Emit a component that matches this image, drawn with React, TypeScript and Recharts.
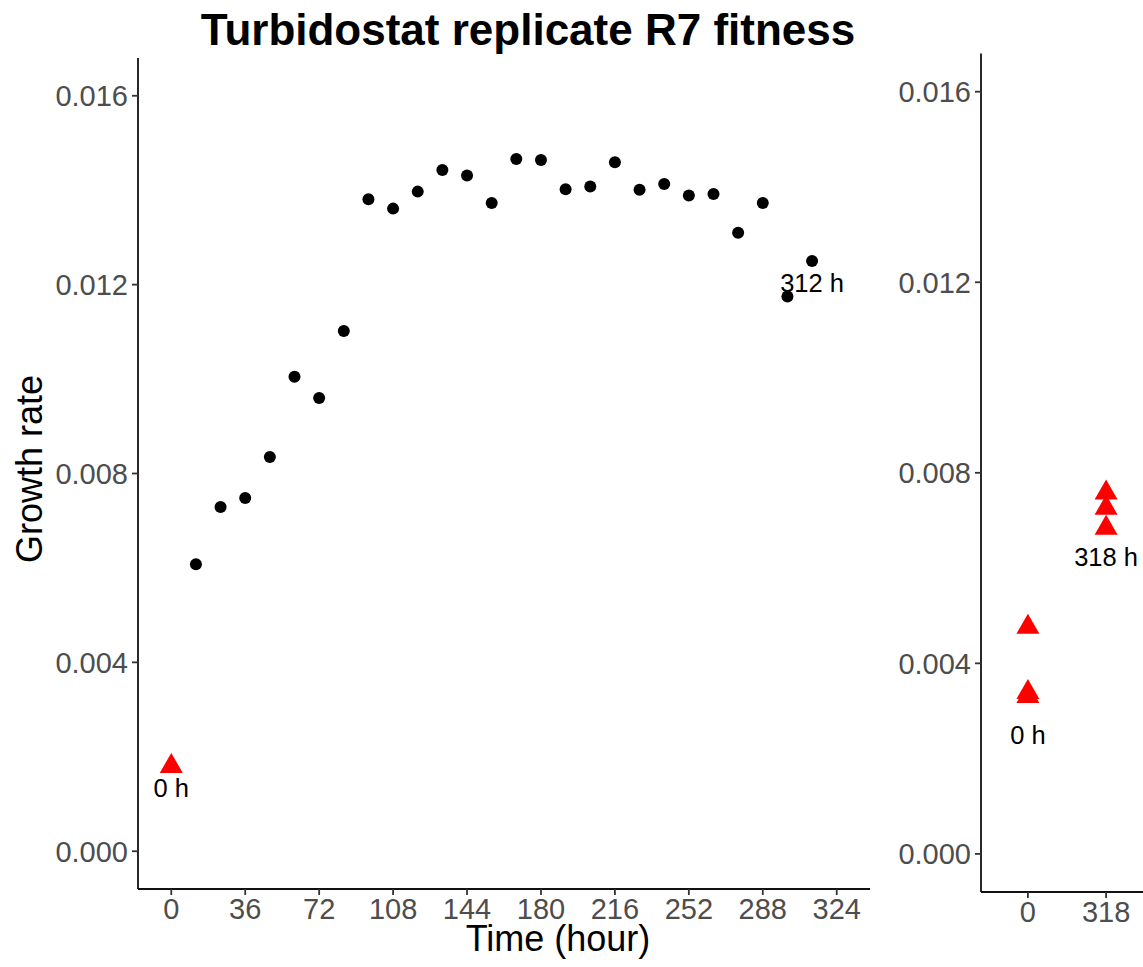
import React from "react";
import { ScatterChart, Scatter, XAxis, YAxis } from "recharts";

// main panel: growth rate measured every 12 h
const hours = [12, 24, 36, 48, 60, 72, 84, 96, 108, 120, 132, 144, 156, 168, 180, 192, 204, 216, 228, 240, 252, 264, 276, 288, 300, 312];
const growth = [
  0.00608, 0.00729, 0.00748, 0.00835, 0.01005, 0.0096, 0.01102, 0.01381, 0.01361, 0.01397,
  0.01443, 0.01431, 0.01373, 0.01466, 0.01464, 0.01402, 0.01408, 0.01459, 0.01401, 0.01413,
  0.01389, 0.01392, 0.0131, 0.01373, 0.01175, 0.0125,
];
const startHours = [0];
const startGrowth = [0.0018];
const hourTicks = [0, 36, 72, 108, 144, 180, 216, 252, 288, 324];
const rateTicks = [0, 0.004, 0.008, 0.012, 0.016];

// side panel: isolates at 0 h and 318 h
const sideCategories = ["0", "318"];
const sideGrowth0 = [0.00476, 0.00339, 0.00331];
const sideGrowth318 = [0.00758, 0.00726, 0.00684];

// text annotations (x, y in data units)
const mainLabels = [
  { x: 0, y: 0.00134, text: "0 h" },
  { x: 312, y: 0.01204, text: "312 h" },
];
const sideLabels = [
  { x: 1, y: 0.0025, text: "0 h" },
  { x: 2, y: 0.00623, text: "318 h" },
];

const FONT = '"Liberation Sans", Arial, Helvetica, sans-serif';
const yDomain = [-0.0008, 0.0168];

const mainDots = hours.map((h, i) => ({ x: h, y: growth[i] }));
const mainStart = startHours.map((h, i) => ({ x: h, y: startGrowth[i] }));
const sideData = [
  ...sideGrowth0.map((g) => ({ x: 1, y: g })),
  ...sideGrowth318.map((g) => ({ x: 2, y: g })),
];

const Dot = (p: any) => <circle cx={p.cx} cy={p.cy} r={6} fill="#000" />;
const Tri = (p: any) => {
  const s = 11.5;
  const h = 20;
  const pts = `${p.cx},${p.cy - (h * 2) / 3} ${p.cx - s},${p.cy + h / 3} ${p.cx + s},${p.cy + h / 3}`;
  return <polygon points={pts} fill="#FF0000" />;
};
const Txt = (p: any) => (
  <text x={p.cx} y={p.cy} textAnchor="middle" dominantBaseline="central" fontSize={25.5} fontFamily={FONT} fill="#000">
    {p.payload.text}
  </text>
);

const tickStyle = { fill: "#4D4D4D", fontSize: 29, fontFamily: FONT };
const axisLine = { stroke: "#111", strokeWidth: 1.8 };
const tickLine = { stroke: "#333", strokeWidth: 1.8 };

export default function App() {
  return (
    <div style={{ position: "absolute", left: 0, top: 0, width: 1143, height: 967, overflow: "hidden", background: "#fff" }}>
      <div style={{ position: "absolute", left: 0, top: 0 }}>
        <ScatterChart width={880} height={967} margin={{ top: 58, right: 10, bottom: 38, left: 0 }}>
          <XAxis
            type="number" dataKey="x" domain={[-16.2, 340.2]} ticks={hourTicks} allowDataOverflow
            height={40} tick={tickStyle} axisLine={axisLine} tickLine={tickLine} tickSize={6} tickMargin={3}
          />
          <YAxis
            type="number" dataKey="y" domain={yDomain} ticks={rateTicks} allowDataOverflow
            width={138} tick={tickStyle} axisLine={axisLine} tickLine={tickLine} tickSize={6} tickMargin={4}
            tickFormatter={(v: number) => v.toFixed(3)}
          />
          <Scatter data={mainDots} shape={Dot} isAnimationActive={false} />
          <Scatter data={mainStart} shape={Tri} isAnimationActive={false} />
          <Scatter data={mainLabels} shape={Txt} isAnimationActive={false} />
        </ScatterChart>
      </div>
      <div style={{ position: "absolute", left: 880, top: 0 }}>
        <ScatterChart width={290} height={967} margin={{ top: 53.6, right: 17, bottom: 35, left: 0 }}>
          <XAxis
            type="number" dataKey="x" domain={[0.4, 2.6]} ticks={[1, 2]} allowDataOverflow
            height={40} tick={tickStyle} axisLine={axisLine} tickLine={tickLine} tickSize={6} tickMargin={3}
            tickFormatter={(v: number) => sideCategories[v - 1]}
          />
          <YAxis
            type="number" dataKey="y" domain={yDomain} ticks={rateTicks} allowDataOverflow
            width={101} tick={tickStyle} axisLine={axisLine} tickLine={tickLine} tickSize={6} tickMargin={4}
            tickFormatter={(v: number) => v.toFixed(3)}
          />
          <Scatter data={sideData} shape={Tri} isAnimationActive={false} />
          <Scatter data={sideLabels} shape={Txt} isAnimationActive={false} />
        </ScatterChart>
      </div>
      <svg width={1143} height={967} style={{ position: "absolute", left: 0, top: 0, pointerEvents: "none" }}>
        <text x={528} y={45} textAnchor="middle" fontSize={44} fontWeight="bold" fontFamily={FONT} fill="#000">
          Turbidostat replicate R7 fitness
        </text>
        <text x={558} y={951} textAnchor="middle" fontSize={36} fontFamily={FONT} fill="#000">
          Time (hour)
        </text>
        <text transform="translate(42,469) rotate(-90)" textAnchor="middle" fontSize={36} fontFamily={FONT} fill="#000">
          Growth rate
        </text>
      </svg>
    </div>
  );
}
